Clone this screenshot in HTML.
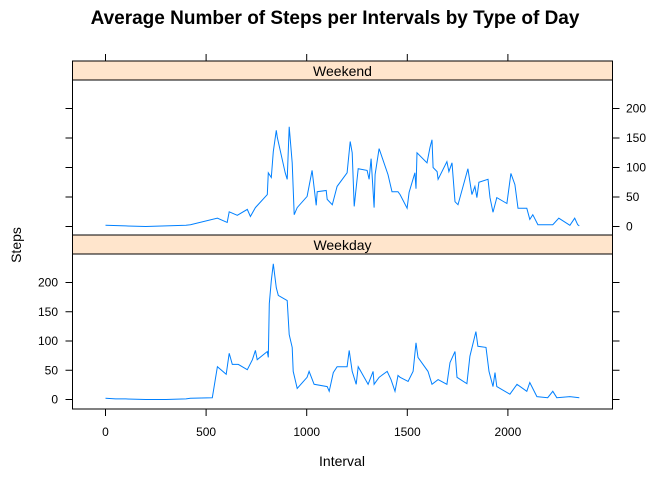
<!DOCTYPE html>
<html><head><meta charset="utf-8"><style>
body{margin:0;background:#fff;}
svg text{font-family:"Liberation Sans",sans-serif;}
</style></head><body>
<svg width="672" height="480" viewBox="0 0 672 480" xmlns="http://www.w3.org/2000/svg" id="chart">
<text x="335" y="24" text-anchor="middle" font-size="19" font-weight="bold">Average Number of Steps per Intervals by Type of Day</text>
<text x="342" y="466" text-anchor="middle" font-size="14">Interval</text>
<text x="21" y="245" text-anchor="middle" font-size="14" transform="rotate(-90 21 245)">Steps</text>
<g id="g"></g>
</svg>
<script>
const weekendIntervals=[0,100,200,300,400,422,556,605,615,655,705,720,745,804,809,824,834,849,854,893,903,913,928,938,953,1002,1027,1047,1052,1097,1102,1127,1151,1201,1216,1226,1236,1256,1300,1310,1320,1335,1340,1360,1404,1424,1454,1464,1499,1509,1538,1543,1548,1598,1613,1623,1628,1648,1653,1697,1707,1722,1737,1752,1801,1821,1836,1846,1856,1901,1911,1926,1945,1995,2015,2035,2050,2094,2109,2124,2149,2223,2253,2308,2332,2347,2355];
const weekendSteps=[2,1,0,1,2,3,14,7,25,19,29,17,32,54,91,83,127,163,151,91,80,169,108,20,32,51,95,36,59,61,46,37,68,91,144,125,34,98,95,80,115,32,88,132,88,59,59,54,31,58,91,64,125,108,134,147,100,93,80,110,93,108,42,37,98,54,68,49,75,80,49,24,49,39,90,71,31,31,12,20,3,3,14,2,14,3,1];
const weekdayIntervals=[0,50,100,200,300,400,422,531,556,600,615,630,660,705,730,745,754,804,809,814,824,834,849,859,903,913,928,933,953,1002,1012,1037,1102,1112,1132,1151,1201,1211,1226,1246,1256,1305,1330,1335,1360,1400,1419,1439,1454,1464,1504,1529,1543,1553,1603,1623,1653,1697,1712,1737,1747,1796,1811,1841,1851,1891,1906,1926,1936,1945,2010,2045,2094,2109,2144,2198,2223,2243,2308,2355];
const weekdaySteps=[2,1,1,0,0,1,2,3,56,43,79,60,60,51,68,84,68,82,72,164,203,232,191,178,169,111,89,48,19,38,48,26,22,14,46,56,56,84,48,26,56,26,48,26,38,48,34,14,41,38,31,48,97,72,48,26,34,26,63,82,38,27,74,116,91,89,48,22,46,22,9,26,14,29,5,3,14,3,5,3];
const xTicks=[0,500,1000,1500,2000];
const yTicks=[0,50,100,150,200];
const NS="http://www.w3.org/2000/svg";
const g=document.getElementById('g');
const X0=72.5,X1=612.5;
const sx=v=>105.5+v*0.2012;
const panels=[{name:'weekend',label:'Weekend',strip:61,top:80,bot:235,zero:226.5,k:0.59,xs:weekendIntervals,ys:weekendSteps,axisRight:true},
{name:'weekday',label:'Weekday',strip:235,top:254,bot:409,zero:399.5,k:0.585,xs:weekdayIntervals,ys:weekdaySteps,axisRight:false}];
function mk(t,a){const e=document.createElementNS(NS,t);for(const k in a)e.setAttribute(k,a[k]);g.appendChild(e);return e;}
panels.forEach(p=>{
 const sy=v=>p.zero-v*p.k;
 const s=mk('rect',{x:X0,y:p.strip,width:X1-X0,height:p.top-p.strip,fill:'#ffe5cc',stroke:'#000'});
 
 
 const st=mk('text',{x:(X0+X1)/2,y:p.top-4,'text-anchor':'middle','font-size':'14'});st.textContent=p.label;
 
 
 const r=mk('rect',{x:X0,y:p.top,width:X1-X0,height:p.bot-p.top,fill:'none',stroke:'#000'});
 
 
 const pts=p.xs.map((x,i)=>sx(x).toFixed(1)+','+sy(p.ys[i]).toFixed(1)).join(' ');
 const l=mk('polyline',{points:pts,fill:'none',stroke:'#0080ff','stroke-width':1});
 
 
 yTicks.forEach(t=>{
  const y=sy(t);
  const tl=mk('line',{x1:X0-7,x2:X0,y1:y,y2:y,stroke:'#000'});
  
  
  const tr=mk('line',{x1:X1,x2:X1+7,y1:y,y2:y,stroke:'#000'});
  
  
  const tx=p.axisRight?mk('text',{x:626,y:y+4,'font-size':'12'}):mk('text',{x:58,y:y+4,'font-size':'12','text-anchor':'end'});
  tx.textContent=t;
  
  
 });
});
xTicks.forEach(t=>{
 const x=sx(t);
 const a=mk('line',{x1:x,x2:x,y1:54,y2:61,stroke:'#000'});
 
 
 const b=mk('line',{x1:x,x2:x,y1:409,y2:416,stroke:'#000'});
 
 
 const tx=mk('text',{x:x,y:436,'text-anchor':'middle','font-size':'12'});tx.textContent=t;
 
 
});
</script>
</body></html>
